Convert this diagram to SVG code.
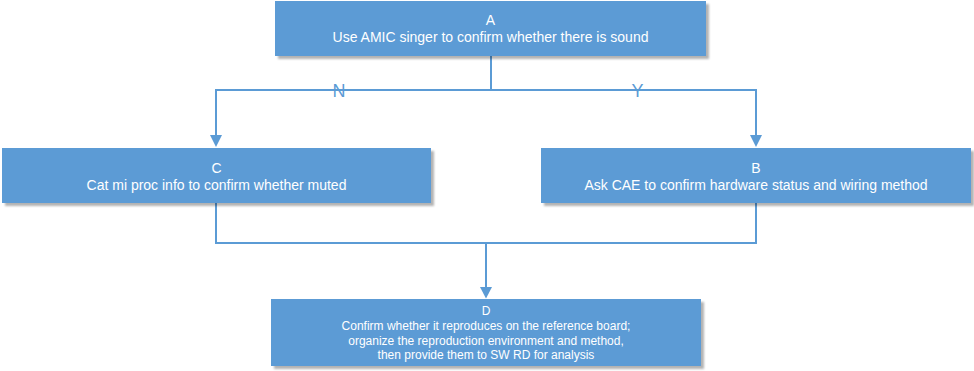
<svg xmlns="http://www.w3.org/2000/svg" width="974" height="371" viewBox="0 0 974 371">
<defs>
<filter id="sh" x="-5%" y="-10%" width="110%" height="130%">
<feGaussianBlur in="SourceAlpha" stdDeviation="0.8" result="b"/>
<feOffset in="b" dx="3" dy="3" result="o"/>
<feComponentTransfer in="o" result="g"><feFuncA type="linear" slope="0.3"/></feComponentTransfer>
<feMerge><feMergeNode in="g"/><feMergeNode in="SourceGraphic"/></feMerge>
</filter>
</defs>
<style>
.box{fill:#5b9bd5;filter:url(#sh);}
.t{font-family:"Liberation Sans",Arial,sans-serif;font-size:14px;fill:#fff;text-anchor:middle;}
.ts{font-family:"Liberation Sans",Arial,sans-serif;font-size:12px;fill:#fff;text-anchor:middle;}
.lab{font-family:"Liberation Sans",Arial,sans-serif;font-size:18px;fill:#5b9bd5;text-anchor:middle;}
.ln{fill:none;stroke:#5b9bd5;stroke-width:2;}
.ah{fill:#5b9bd5;}
</style>
<rect width="974" height="371" fill="#fff"/>
<g id="connectors">
<path class="ln" d="M491,56 V90 H216 V136"/>
<path class="ln" d="M491,90 H756 V136"/>
<path class="ln" d="M216,203 V243 H756 V203"/>
<path class="ln" d="M486,243 V288"/>
<path class="ah" d="M210,135 H222 L216,147 Z"/>
<path class="ah" d="M750,135 H762 L756,147 Z"/>
<path class="ah" d="M480,287 H492 L486,298.5 Z"/>
<text class="lab" x="339" y="97">N</text>
<text class="lab" x="637.5" y="97">Y</text>
</g>
<g id="A">
<rect class="box" x="275" y="1" width="431" height="55"/>
<text class="t" x="490.5" y="25">A</text>
<text class="t" x="490.5" y="41.5">Use AMIC singer to confirm whether there is sound</text>
</g>
<g id="C">
<rect class="box" x="2" y="148" width="429" height="55"/>
<text class="t" x="216.5" y="173">C</text>
<text class="t" x="216.5" y="189.5">Cat mi proc info to confirm whether muted</text>
</g>
<g id="B">
<rect class="box" x="541" y="148" width="430" height="55"/>
<text class="t" x="756" y="173">B</text>
<text class="t" x="756" y="189.5">Ask CAE to confirm hardware status and wiring method</text>
</g>
<g id="D">
<rect class="box" x="271" y="299" width="430" height="67"/>
<text class="ts" x="486" y="315">D</text>
<text class="ts" x="486" y="330">Confirm whether it reproduces on the reference board;</text>
<text class="ts" x="486" y="344.5">organize the reproduction environment and method,</text>
<text class="ts" x="486" y="359">then provide them to SW RD for analysis</text>
</g>
</svg>
